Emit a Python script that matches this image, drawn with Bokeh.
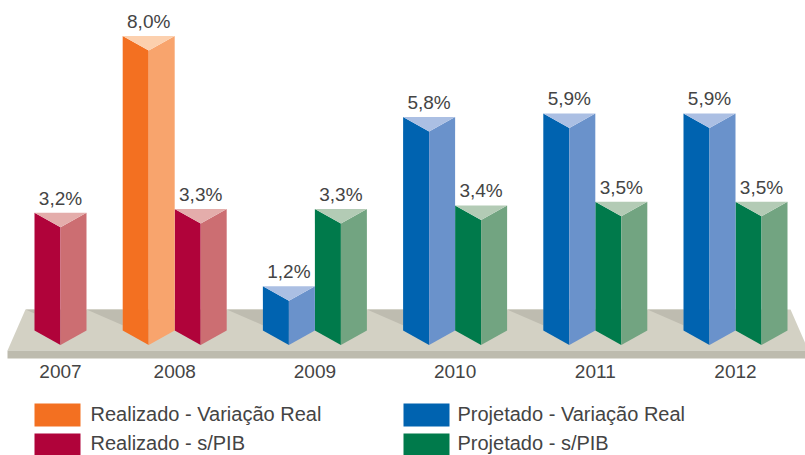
from bokeh.plotting import figure
from bokeh.models import Range1d
from bokeh.core.properties import value
from bokeh.embed import file_html
from bokeh.resources import INLINE

# ---------------- data ----------------
years = ["2007", "2008", "2009", "2010", "2011", "2012"]
realizado_variacao = [None, 8.0, None, None, None, None]
realizado_pib = [3.2, 3.3, None, None, None, None]
projetado_variacao = [None, None, 1.2, 5.8, 5.9, 5.9]
projetado_pib = [None, None, 3.3, 3.4, 3.5, 3.5]
series_names = ["Realizado - Variação Real", "Realizado - s/PIB",
                "Projetado - Variação Real", "Projetado - s/PIB"]

# ---------------- styles ----------------
# (front face, side face, top face)
colors = {
    "Realizado - Variação Real": ("#f37021", "#f8a46d", "#fcd0ae"),
    "Realizado - s/PIB": ("#b0033a", "#cc6e72", "#e4adab"),
    "Projetado - Variação Real": ("#0063b0", "#6a92cb", "#abbfe3"),
    "Projetado - s/PIB": ("#007a4b", "#72a481", "#b3cbb5"),
}
series = [
    (realizado_variacao, 0, "Realizado - Variação Real"),
    (realizado_pib, 1, "Realizado - s/PIB"),
    (projetado_variacao, 0, "Projetado - Variação Real"),
    (projetado_pib, 1, "Projetado - s/PIB"),
]
TEXT_COLOR = "#444444"
FONT = value("Liberation Sans")
TEXT_SHIFT = 7.5   # correction between requested and rendered baseline (px)

W, H = 805, 455
X0_PX, GROUP_PX = 34.0, 140.2      # group 0 centre / group spacing in pixels
BASE_PX, UNIT_PX = 330.0, 36.8     # pixel row of value 0 / pixels per 1 %


def X(px):
    return (px - X0_PX) / GROUP_PX


def Y(py):
    return (BASE_PX - py) / UNIT_PX


BAR_W = 52.0 / GROUP_PX
DEPTH = 14.5 / UNIT_PX

p = figure(width=W, height=H, x_range=Range1d(X(0), X(W)), y_range=Range1d(Y(H), Y(0)),
           x_axis_type=None, y_axis_type=None, output_backend="svg",
           toolbar_location=None, min_border=0)
p.xgrid.visible = False
p.ygrid.visible = False
p.outline_line_color = None
p.background_fill_color = "white"
p.border_fill_color = "white"

# ---------------- floor ----------------
FLOOR_BACK, FLOOR_FRONT, FLOOR_BOTTOM = 309, 350, 358
p.patch([X(25), X(790), X(808), X(7)],
        [Y(FLOOR_BACK), Y(FLOOR_BACK), Y(FLOOR_FRONT), Y(FLOOR_FRONT)],
        fill_color="#d3d1c4", line_color=None)
p.patch([X(7), X(830), X(830), X(7)],
        [Y(FLOOR_FRONT), Y(FLOOR_FRONT), Y(FLOOR_BOTTOM), Y(FLOOR_BOTTOM)],
        fill_color="#bdbbae", line_color=None)

# ---------------- bars (triangular prisms) ----------------
lx, ly, lc = [], [], []
rx, ry, rc = [], [], []
tx, ty, tc = [], [], []
lab_x, lab_y, lab_t = [], [], []
group_bounds = {}
for vals, slot, name in series:
    front, side, top = colors[name]
    for i, v in enumerate(vals):
        if v is None:
            continue
        x0 = i + (slot - 1) * BAR_W
        x1 = x0 + BAR_W
        xm = (x0 + x1) / 2
        lx.append([x0, x0, xm, xm]); ly.append([0, v, v - DEPTH, -DEPTH]); lc.append(front)
        rx.append([xm, xm, x1, x1]); ry.append([-DEPTH, v - DEPTH, v, 0]); rc.append(side)
        tx.append([x0, x1, xm]); ty.append([v, v, v - DEPTH]); tc.append(top)
        lab_x.append(xm); lab_y.append(v)
        lab_t.append(f"{v:.1f}%".replace(".", ","))
        group_bounds.setdefault(i, []).append((x0, x1, xm))

# shadows on the floor, to the left of each group
sx, sy = [], []
prev_right = X(25)
for i in range(len(years)):
    b = group_bounds[i]
    left = min(e[0] for e in b)
    gap_px = (left - prev_right) * GROUP_PX
    drop = min(16.0, 16.0 * gap_px / 37.0)
    sx.append([prev_right, left, left])
    sy.append([Y(FLOOR_BACK), Y(FLOOR_BACK), Y(FLOOR_BACK + drop)])
    prev_right = max(e[1] for e in b)
p.patches(sx, sy, fill_color="#bebcb0", line_color=None)

p.patches(lx, ly, fill_color=lc, line_color=None)
p.patches(rx, ry, fill_color=rc, line_color=None)
p.patches(tx, ty, fill_color=tc, line_color=None)

# value labels
p.text(x=lab_x, y=lab_y, text=lab_t, text_align="center", text_baseline="alphabetic",
       y_offset=-7 - TEXT_SHIFT, text_font=FONT, text_font_size="19px",
       text_color=TEXT_COLOR)

# year labels
yr_x = [sum(e[2] for e in group_bounds[i]) / len(group_bounds[i]) for i in range(len(years))]
p.text(x=yr_x, y=[Y(378 - TEXT_SHIFT)] * len(years), text=years, text_align="center",
       text_baseline="alphabetic", text_font=FONT, text_font_size="19px",
       text_color=TEXT_COLOR)

# ---------------- legend ----------------
leg_sq_x = [57, 57, 426, 426]
leg_sq_y = [414.5, 444, 414.5, 444]
leg_sq_h = [23, 22, 23, 22]
leg_tx = [90, 90, 457, 457]
leg_ty = [421, 450, 421, 450]
p.rect(x=[X(v) for v in leg_sq_x], y=[Y(v) for v in leg_sq_y],
       width=46, height=leg_sq_h, width_units="screen", height_units="screen",
       fill_color=[colors[n][0] for n in series_names], line_color=None)
p.text(x=[X(v) for v in leg_tx], y=[Y(v - TEXT_SHIFT) for v in leg_ty], text=series_names,
       text_align="left", text_baseline="alphabetic", text_font=FONT,
       text_font_size="20px", text_color=TEXT_COLOR)

open("out.html", "w").write(file_html(p, INLINE))
